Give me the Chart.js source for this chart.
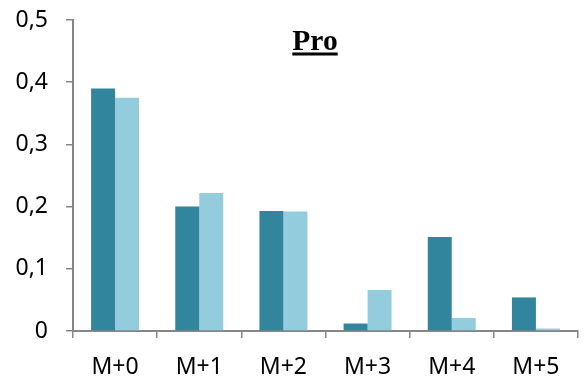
<!DOCTYPE html>
<html>
<head>
<meta charset="utf-8">
<script src="https://cdn.jsdelivr.net/npm/chart.js@4/dist/chart.umd.min.js"></script>
<style>
  body { margin: 0; background: #fff; }
  #wrap { width: 584px; height: 383px; }
</style>
</head>
<body>
<div id="wrap"><canvas id="myChart" width="584" height="383"></canvas></div>
<script>
let labels = ["M+0", "M+1", "M+2", "M+3", "M+4", "M+5"];
let darkData = [0.390, 0.200, 0.193, 0.012, 0.151, 0.054];
let lightData = [0.375, 0.222, 0.192, 0.066, 0.021, 0.004];
let titleText = "Pro";

const axisColor = "#868686";

// title is drawn by hand so it can be underlined
const titlePlugin = {
  id: "underlineTitle",
  afterDraw(chart) {
    const ctx = chart.ctx;
    ctx.save();
    ctx.font = "bold 29.5px 'Liberation Serif'";
    ctx.fillStyle = "#000";
    ctx.textAlign = "center";
    ctx.textBaseline = "alphabetic";
    let x = 315;
    let y = 49.5;
    ctx.fillText(titleText, x, y);
    let w = ctx.measureText(titleText).width;
    ctx.fillRect(x - w / 2, y + 3, w, 3);
    ctx.restore();
  }
};

function barChart() {
  const data = {
    labels: labels,
    datasets: [{
      label: "A",
      backgroundColor: "#31859C",
      data: darkData,
    }, {
      label: "B",
      backgroundColor: "#93CDDD",
      data: lightData,
    }]
  };

  const config = {
    type: "bar",
    data,
    plugins: [titlePlugin],
    options: {
      responsive: false,
      animation: false,
      categoryPercentage: 0.57,
      barPercentage: 1,
      layout: { padding: { top: 20, right: 6, left: 0, bottom: 0 } },
      plugins: {
        legend: { display: false },
        tooltip: { enabled: false }
      },
      scales: {
        x: {
          grid: { display: true, drawOnChartArea: false, color: axisColor, tickLength: 7, lineWidth: 1.5 },
          border: { display: true, color: axisColor, width: 2 },
          ticks: { color: "#000", font: { family: "'Noto Sans'", size: 23 }, padding: 16 },
          afterFit(scale) {
            scale.height = 52;
            scale.paddingLeft = 0;
            scale.paddingRight = 0;
          }
        },
        y: {
          min: 0,
          max: 0.5,
          grid: { display: true, drawOnChartArea: false, color: axisColor, tickLength: 7, lineWidth: 1.5 },
          border: { display: true, color: axisColor, width: 2 },
          ticks: {
            stepSize: 0.1,
            color: "#000",
            font: { family: "'Noto Sans'", size: 23 },
            padding: 18,
            callback: v => v === 0 ? "0" : v.toFixed(1).replace(".", ",")
          },
          afterFit(scale) {
            scale.width = 73;
            scale.paddingTop = 0;
            scale.paddingBottom = 0;
          }
        }
      }
    }
  };

  var myChart = new Chart(document.getElementById("myChart"), config);
}
barChart();
</script>
</body>
</html>
